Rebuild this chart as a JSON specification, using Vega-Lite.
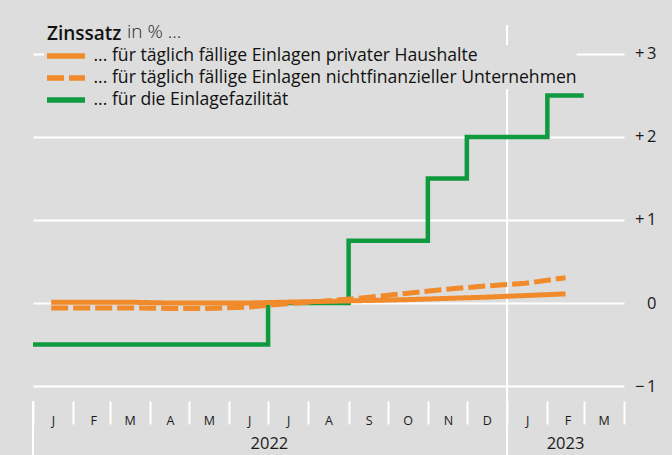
{
  "$schema": "https://vega.github.io/schema/vega-lite/v6.json",
  "width": 591,
  "height": 430,
  "autosize": {"type": "none"},
  "padding": {"left": 33, "top": 25, "right": 48, "bottom": 0},
  "background": "#dcdddc",
  "config": {"view": {"stroke": null}, "font": "Open Sans"},
  "title": {"text": "Zinssatz", "anchor": "start", "frame": "group", "fontSize": 19, "fontWeight": 600, "color": "#111111", "dx": 14, "offset": -21},
  "datasets": {
    "rates": [
      {"date": "2022-01-01T00:00", "series": "... für die Einlagefazilität", "value": -0.5},
      {"date": "2022-02-01T00:00", "series": "... für die Einlagefazilität", "value": -0.5},
      {"date": "2022-03-01T00:00", "series": "... für die Einlagefazilität", "value": -0.5},
      {"date": "2022-04-01T00:00", "series": "... für die Einlagefazilität", "value": -0.5},
      {"date": "2022-05-01T00:00", "series": "... für die Einlagefazilität", "value": -0.5},
      {"date": "2022-06-01T00:00", "series": "... für die Einlagefazilität", "value": -0.5},
      {"date": "2022-07-01T00:00", "series": "... für die Einlagefazilität", "value": 0},
      {"date": "2022-08-01T00:00", "series": "... für die Einlagefazilität", "value": 0},
      {"date": "2022-09-01T00:00", "series": "... für die Einlagefazilität", "value": 0.75},
      {"date": "2022-10-01T00:00", "series": "... für die Einlagefazilität", "value": 0.75},
      {"date": "2022-11-01T00:00", "series": "... für die Einlagefazilität", "value": 1.5},
      {"date": "2022-12-01T00:00", "series": "... für die Einlagefazilität", "value": 2.0},
      {"date": "2023-01-01T00:00", "series": "... für die Einlagefazilität", "value": 2.0},
      {"date": "2023-02-01T00:00", "series": "... für die Einlagefazilität", "value": 2.5},
      {"date": "2023-03-01T00:00", "series": "... für die Einlagefazilität", "value": 2.5},
      {"date": "2022-01-15T00:00", "series": "... für täglich fällige Einlagen privater Haushalte", "value": 0.01},
      {"date": "2022-02-15T00:00", "series": "... für täglich fällige Einlagen privater Haushalte", "value": 0.01},
      {"date": "2022-03-15T00:00", "series": "... für täglich fällige Einlagen privater Haushalte", "value": 0.01},
      {"date": "2022-04-15T00:00", "series": "... für täglich fällige Einlagen privater Haushalte", "value": 0.0},
      {"date": "2022-05-15T00:00", "series": "... für täglich fällige Einlagen privater Haushalte", "value": 0.0},
      {"date": "2022-06-15T00:00", "series": "... für täglich fällige Einlagen privater Haushalte", "value": 0.0},
      {"date": "2022-07-15T00:00", "series": "... für täglich fällige Einlagen privater Haushalte", "value": 0.01},
      {"date": "2022-08-15T00:00", "series": "... für täglich fällige Einlagen privater Haushalte", "value": 0.02},
      {"date": "2022-09-15T00:00", "series": "... für täglich fällige Einlagen privater Haushalte", "value": 0.03},
      {"date": "2022-10-15T00:00", "series": "... für täglich fällige Einlagen privater Haushalte", "value": 0.04},
      {"date": "2022-11-15T00:00", "series": "... für täglich fällige Einlagen privater Haushalte", "value": 0.055},
      {"date": "2022-12-15T00:00", "series": "... für täglich fällige Einlagen privater Haushalte", "value": 0.07},
      {"date": "2023-01-15T00:00", "series": "... für täglich fällige Einlagen privater Haushalte", "value": 0.09},
      {"date": "2023-02-15T00:00", "series": "... für täglich fällige Einlagen privater Haushalte", "value": 0.11},
      {"date": "2022-01-15T00:00", "series": "... für täglich fällige Einlagen nichtfinanzieller Unternehmen", "value": -0.06},
      {"date": "2022-02-15T00:00", "series": "... für täglich fällige Einlagen nichtfinanzieller Unternehmen", "value": -0.06},
      {"date": "2022-03-15T00:00", "series": "... für täglich fällige Einlagen nichtfinanzieller Unternehmen", "value": -0.06},
      {"date": "2022-04-15T00:00", "series": "... für täglich fällige Einlagen nichtfinanzieller Unternehmen", "value": -0.065},
      {"date": "2022-05-15T00:00", "series": "... für täglich fällige Einlagen nichtfinanzieller Unternehmen", "value": -0.065},
      {"date": "2022-06-15T00:00", "series": "... für täglich fällige Einlagen nichtfinanzieller Unternehmen", "value": -0.05},
      {"date": "2022-07-15T00:00", "series": "... für täglich fällige Einlagen nichtfinanzieller Unternehmen", "value": -0.01},
      {"date": "2022-08-15T00:00", "series": "... für täglich fällige Einlagen nichtfinanzieller Unternehmen", "value": 0.025},
      {"date": "2022-09-15T00:00", "series": "... für täglich fällige Einlagen nichtfinanzieller Unternehmen", "value": 0.066},
      {"date": "2022-10-15T00:00", "series": "... für täglich fällige Einlagen nichtfinanzieller Unternehmen", "value": 0.115},
      {"date": "2022-11-15T00:00", "series": "... für täglich fällige Einlagen nichtfinanzieller Unternehmen", "value": 0.165},
      {"date": "2022-12-15T00:00", "series": "... für täglich fällige Einlagen nichtfinanzieller Unternehmen", "value": 0.205},
      {"date": "2023-01-15T00:00", "series": "... für täglich fällige Einlagen nichtfinanzieller Unternehmen", "value": 0.237},
      {"date": "2023-02-15T00:00", "series": "... für täglich fällige Einlagen nichtfinanzieller Unternehmen", "value": 0.305}
    ],
    "separators": [
      {"date": "2022-01-01T00:00", "value": -1.181, "value2": -1.831},
      {"date": "2023-01-01T00:00", "value": 3.349, "value2": -1.831}
    ],
    "years": [
      {"date": "2022-07-02T00:00", "value": -1.699, "year": "2022"},
      {"date": "2023-02-15T00:00", "value": -1.699, "year": "2023"}
    ]
  },
  "encoding": {
    "x": {
      "field": "date",
      "type": "temporal",
      "scale": {"domain": [{"year": 2022, "month": 1, "date": 1}, {"year": 2023, "month": 4, "date": 1}]},
      "axis": {
        "title": null,
        "values": [
          {"year": 2022, "month": 1, "date": 1}, {"year": 2022, "month": 2, "date": 1}, {"year": 2022, "month": 3, "date": 1},
          {"year": 2022, "month": 4, "date": 1}, {"year": 2022, "month": 5, "date": 1}, {"year": 2022, "month": 6, "date": 1},
          {"year": 2022, "month": 7, "date": 1}, {"year": 2022, "month": 8, "date": 1}, {"year": 2022, "month": 9, "date": 1},
          {"year": 2022, "month": 10, "date": 1}, {"year": 2022, "month": 11, "date": 1}, {"year": 2022, "month": 12, "date": 1},
          {"year": 2023, "month": 1, "date": 1}, {"year": 2023, "month": 2, "date": 1}, {"year": 2023, "month": 3, "date": 1},
          {"year": 2023, "month": 4, "date": 1}
        ],
        "domain": false,
        "grid": false,
        "offset": -54,
        "tickSize": 23,
        "tickColor": "white",
        "tickWidth": 2,
        "labelOffset": 20,
        "labelPadding": -10,
        "labelFontSize": 12.5,
        "labelColor": "#1a1a1a",
        "labelFlush": false,
        "labelOverlap": false,
        "labelBound": false,
        "labelExpr": "year(datum.value) == 2023 && month(datum.value) == 3 ? '' : substring(timeFormat(datum.value, '%b'), 0, 1)"
      }
    },
    "y": {
      "field": "value",
      "type": "quantitative",
      "scale": {"domain": [-1.831, 3.349], "nice": false, "zero": false},
      "axis": {
        "title": null,
        "orient": "right",
        "values": [-1, 0, 1, 2, 3],
        "grid": true,
        "gridColor": "white",
        "gridWidth": 2,
        "gridOpacity": 1,
        "domain": false,
        "ticks": false,
        "labelAlign": "right",
        "labelBaseline": "middle",
        "labelPadding": 32,
        "labelFontSize": 16.5,
        "labelColor": "#1a1a1a",
        "labelExpr": "datum.value > 0 ? '+\u2009' + datum.value : (datum.value < 0 ? '\u2212\u2009' + (-datum.value) : '0')"
      }
    }
  },
  "layer": [
    {
      "data": {"name": "separators"},
      "mark": {"type": "rule", "color": "white", "strokeWidth": 2},
      "encoding": {"y2": {"field": "value2"}}
    },
    {
      "data": {"name": "rates"},
      "transform": [{"filter": "datum.series == '... für die Einlagefazilität'"}],
      "mark": {"type": "line", "interpolate": "step-after", "strokeWidth": 4.5},
      "encoding": {
        "color": {
          "field": "series", "type": "nominal",
          "scale": {"domain": ["... für täglich fällige Einlagen privater Haushalte", "... für täglich fällige Einlagen nichtfinanzieller Unternehmen", "... für die Einlagefazilität"], "range": ["#f08a2b", "#f08a2b", "#0f9a40"]},
          "legend": {
            "orient": "none", "legendX": 11, "legendY": -2, "padding": 0,
            "title": "in % ...", "titleFontSize": 19, "titleFontWeight": 300, "titleColor": "#2a2a2a", "titlePadding": 3,
            "symbolType": "stroke", "symbolSize": 1444, "symbolStrokeWidth": 5.5,
            "labelFontSize": 17.6, "labelColor": "#111111", "labelOffset": 5.5, "labelLimit": 0, "rowPadding": 0, "clipHeight": 22,
            "encode": {"title": {"update": {"dx": {"value": 83}}}, "entries": {"update": {"fill": [{"test": "datum.index < 2", "value": "#dcdddc"}, {"value": "transparent"}]}}}
          }
        },
        "strokeDash": {
          "field": "series", "type": "nominal",
          "scale": {"domain": ["... für täglich fällige Einlagen privater Haushalte", "... für täglich fällige Einlagen nichtfinanzieller Unternehmen", "... für die Einlagefazilität"], "range": [[1, 0], [17, 5], [1, 0]]},
          "legend": {
            "orient": "none", "legendX": 11, "legendY": -2, "padding": 0,
            "title": "in % ...", "titleFontSize": 19, "titleFontWeight": 300, "titleColor": "#2a2a2a", "titlePadding": 3,
            "symbolType": "stroke", "symbolSize": 1444, "symbolStrokeWidth": 5.5,
            "labelFontSize": 17.6, "labelColor": "#111111", "labelOffset": 5.5, "labelLimit": 0, "rowPadding": 0, "clipHeight": 22,
            "encode": {"title": {"update": {"dx": {"value": 83}}}, "entries": {"update": {"fill": [{"test": "datum.index < 2", "value": "#dcdddc"}, {"value": "transparent"}]}}}
          }
        }
      }
    },
    {
      "data": {"name": "rates"},
      "transform": [{"filter": "datum.series != '... für die Einlagefazilität'"}],
      "mark": {"type": "line", "strokeWidth": 5},
      "encoding": {
        "color": {"field": "series", "type": "nominal"},
        "strokeDash": {"field": "series", "type": "nominal"}
      }
    },
    {
      "data": {"name": "years"},
      "mark": {"type": "text", "fontSize": 16.5, "color": "#1a1a1a", "baseline": "middle"},
      "encoding": {"text": {"field": "year"}}
    }
  ]
}
